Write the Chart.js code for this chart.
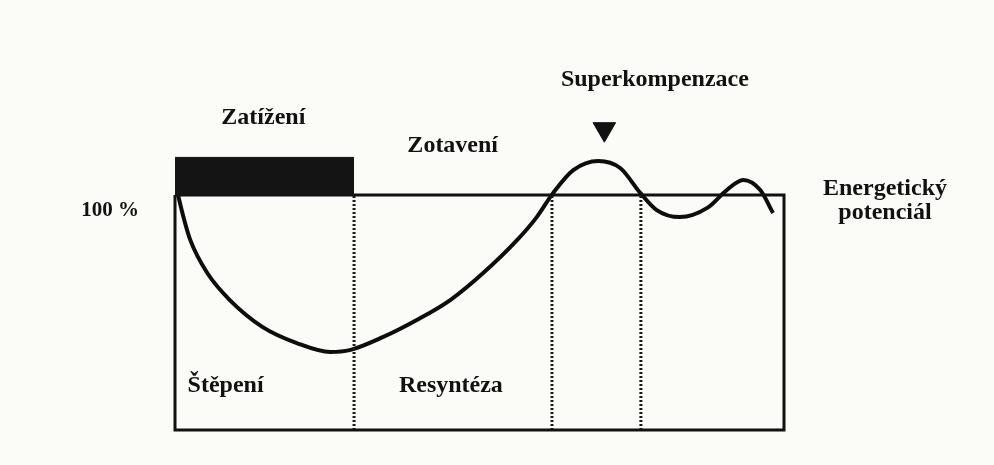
<!DOCTYPE html>
<html>
<head>
<meta charset="utf-8">
<script src="https://cdn.jsdelivr.net/npm/chart.js@4/dist/chart.umd.min.js"></script>
<style>
  html, body { margin: 0; padding: 0; background: #fbfbf8; }
  #wrap { width: 994px; height: 465px; }
</style>
</head>
<body>
<div id="wrap"><canvas id="energyChart" width="994" height="465"></canvas></div>
<script>
// energeticky potencial v case (x: 0-100, y: % vychozi urovne)
const curveX = [0.5, 1.3, 2.5, 5.3, 9.0, 14.4, 20.0, 25.5, 28.7, 34.2, 39.7, 45.2, 50.6, 56.2, 59.4, 62.1, 65.4, 69.5, 73.1, 76.4, 79.1, 82.9, 87.4, 90.6, 93.3, 96.1, 98.2];
const curveY = [100, 91.5, 80.9, 66.8, 55.3, 43.8, 37.0, 33.2, 34.0, 39.6, 46.8, 55.3, 66.8, 80.9, 90.6, 100.9, 110.6, 114.5, 111.5, 100.9, 93.6, 90.6, 94.5, 102.1, 106.4, 102.1, 92.3];

const phaseBounds = [29.4, 61.9, 76.5];   // teckovane hranice fazi
const loadEnd = 29.4;
const loadTop = 116;
const baseLevel = 100;
const peakMark = { x: 70.5, y: 128 };

const phaseLabels = ['Zatížení', 'Zotavení', 'Superkompenzace', 'Štěpení', 'Resyntéza'];
const levelLabel = '100 %';
const curveLabel = ['Energetický', 'potenciál'];

document.addEventListener("DOMContentLoaded", function(){
    const ctx = document.getElementById('energyChart').getContext('2d');

    const curve = curveX.map((x, i) => ({ x: x, y: curveY[i] }));
    const frame = [
        { x: 0, y: baseLevel }, { x: 0, y: 0 }, { x: 100, y: 0 },
        { x: 100, y: baseLevel }, { x: 0, y: baseLevel }
    ];

    const datasets = [
        {
            // zatizeni - cerny blok
            data: [{ x: 0, y: loadTop }, { x: loadEnd, y: loadTop }],
            borderColor: '#111',
            backgroundColor: '#141414',
            borderWidth: 1,
            pointRadius: 0,
            fill: { value: baseLevel }
        },
        {
            data: frame,
            borderColor: '#111',
            borderWidth: 3,
            pointRadius: 0,
            tension: 0,
            fill: false
        }
    ];

    phaseBounds.forEach(b => {
        datasets.push({
            data: [{ x: b, y: 0 }, { x: b, y: baseLevel }],
            borderColor: '#1a1a1a',
            borderWidth: 3,
            borderDash: [2, 2],
            pointRadius: 0,
            fill: false
        });
    });

    datasets.push({
        data: curve,
        borderColor: '#0d0d0d',
        borderWidth: 4,
        pointRadius: 0,
        cubicInterpolationMode: 'monotone',
        fill: false
    });

    datasets.push({
        data: [peakMark],
        showLine: false,
        pointStyle: 'triangle',
        pointRotation: 180,
        pointRadius: 13,
        backgroundColor: '#111',
        borderColor: '#111'
    });

    const textPlugin = {
        id: 'diagramText',
        afterDatasetsDraw(chart) {
            const c = chart.ctx;
            const xs = chart.scales.x, ys = chart.scales.y;
            c.save();
            c.fillStyle = '#111';
            c.textAlign = 'center';
            c.textBaseline = 'middle';
            c.font = 'bold 24px "Liberation Serif", "DejaVu Serif", serif';
            const spots = [
                [14.5, 133], [45.6, 121], [78.8, 149], [8.3, 19], [45.3, 19]
            ];
            phaseLabels.forEach((t, i) => {
                c.fillText(t, xs.getPixelForValue(spots[i][0]), ys.getPixelForValue(spots[i][1]));
            });
            c.fillText(curveLabel[0], 885, ys.getPixelForValue(102.5));
            c.fillText(curveLabel[1], 885, ys.getPixelForValue(92.5));
            c.font = 'bold 21px "Liberation Serif", "DejaVu Serif", serif';
            c.fillText(levelLabel, 110, ys.getPixelForValue(93.5));
            c.restore();
        }
    };

    const config = {
        type: 'line',
        data: { datasets: datasets },
        options: {
            responsive: false,
            animation: false,
            layout: { padding: { left: 175, right: 210, top: 54, bottom: 35 } },
            datasets: { line: { clip: false } },
            scales: {
                x: { type: 'linear', min: 0, max: 100, display: false },
                y: { min: 0, max: 160, display: false }
            },
            plugins: {
                legend: { display: false },
                tooltip: { enabled: false }
            }
        },
        plugins: [textPlugin]
    };

    new Chart(ctx, config);
});
</script>
</body>
</html>
